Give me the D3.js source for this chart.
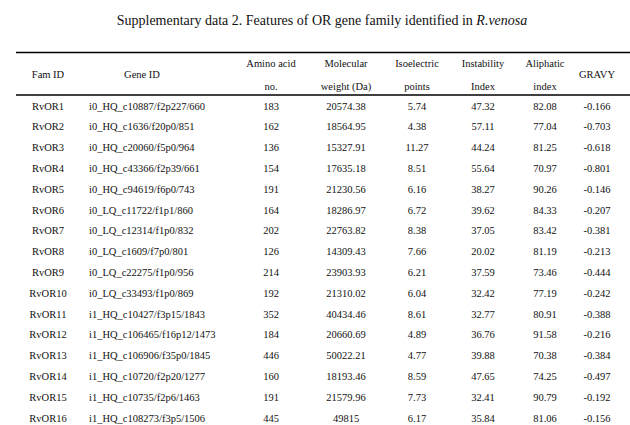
<!DOCTYPE html>
<html lang="en">
<head>
  <meta charset="UTF-8" />
  <title>Features of OR gene family</title>
  <script src="https://d3js.org/d3.v7.min.js"></script>
  <style>
    body {
      margin: 0;
      background: #fff;
    }
    svg text {
      font-family: "Liberation Serif", "Times New Roman", serif;
      fill: #111;
    }
    .title { font-size: 14px; }
    .cell, .head { font-size: 10.5px; }
    .rule { stroke: #000; stroke-width: 1.5; }
  </style>
</head>
<body>
<svg id="table" width="630" height="425"></svg>
<script>
// column headers (each split into its printed lines)
const columns = ["fam", "gene", "aa", "mw", "pi", "ii", "ai", "gravy"];
const headers = [
  ["Fam ID"], ["Gene ID"], ["Amino acid", "no."], ["Molecular", "weight (Da)"],
  ["Isoelectric", "points"], ["Instability", "Index"], ["Aliphatic", "index"], ["GRAVY"]
];

const famIds = ["RvOR1", "RvOR2", "RvOR3", "RvOR4", "RvOR5", "RvOR6", "RvOR7", "RvOR8",
  "RvOR9", "RvOR10", "RvOR11", "RvOR12", "RvOR13", "RvOR14", "RvOR15", "RvOR16"];
const geneIds = [
  "i0_HQ_c10887/f2p227/660", "i0_HQ_c1636/f20p0/851", "i0_HQ_c20060/f5p0/964",
  "i0_HQ_c43366/f2p39/661", "i0_HQ_c94619/f6p0/743", "i0_LQ_c11722/f1p1/860",
  "i0_LQ_c12314/f1p0/832", "i0_LQ_c1609/f7p0/801", "i0_LQ_c22275/f1p0/956",
  "i0_LQ_c33493/f1p0/869", "i1_HQ_c10427/f3p15/1843", "i1_HQ_c106465/f16p12/1473",
  "i1_HQ_c106906/f35p0/1845", "i1_HQ_c10720/f2p20/1277", "i1_HQ_c10735/f2p6/1463",
  "i1_HQ_c108273/f3p5/1506"];
const aminoAcids = [183, 162, 136, 154, 191, 164, 202, 126, 214, 192, 352, 184, 446, 160, 191, 445];
const molWeights = [20574.38, 18564.95, 15327.91, 17635.18, 21230.56, 18286.97, 22763.82, 14309.43,
  23903.93, 21310.02, 40434.46, 20660.69, 50022.21, 18193.46, 21579.96, 49815];
const isoelectric = [5.74, 4.38, 11.27, 8.51, 6.16, 6.72, 8.38, 7.66, 6.21, 6.04, 8.61, 4.89, 4.77, 8.59, 7.73, 6.17];
const instability = [47.32, 57.11, 44.24, 55.64, 38.27, 39.62, 37.05, 20.02, 37.59, 32.42, 32.77, 36.76, 39.88, 47.65, 32.41, 35.84];
const aliphatic = [82.08, 77.04, 81.25, 70.97, 90.26, 84.33, 83.42, 81.19, 73.46, 77.19, 80.91, 91.58, 70.38, 74.25, 90.79, 81.06];
const gravy = [-0.166, -0.703, -0.618, -0.801, -0.146, -0.207, -0.381, -0.213, -0.444, -0.242, -0.388, -0.216, -0.384, -0.497, -0.192, -0.156];

const series = [famIds, geneIds, aminoAcids, molWeights, isoelectric, instability, aliphatic, gravy];

const svg = d3.select("#table");
const width = +svg.attr("width");

// x centre of each column, y of each data row
const x = d3.scaleOrdinal().domain(columns).range([48, 142, 271, 346, 417, 483, 545, 597]);
const geneLeft = 89;
const y = d3.scalePoint().domain(famIds).range([106, 418]);
const headY = d3.scalePoint().domain([0, 1]).range([63.5, 86]);

svg.append("text")
  .attr("class", "title")
  .attr("x", 322)
  .attr("y", 20)
  .attr("dy", "0.35em")
  .attr("text-anchor", "middle")
  .html('Supplementary data 2. Features of OR gene family identified in <tspan font-style="italic">R.venosa</tspan>');

svg.append("line").attr("class", "rule")
  .attr("x1", 16).attr("x2", width).attr("y1", 52.5).attr("y2", 52.5);
svg.append("line").attr("class", "rule")
  .attr("x1", 16).attr("x2", width).attr("y1", 95).attr("y2", 95);

// header
const head = svg.append("g");
columns.forEach((c, i) => {
  const lines = headers[i];
  lines.forEach((t, j) => {
    head.append("text")
      .attr("class", "head")
      .attr("x", x(c))
      .attr("y", lines.length === 1 ? (headY(0) + headY(1)) / 2 : headY(j))
      .attr("dy", "0.35em")
      .attr("text-anchor", "middle")
      .text(t);
  });
});

// body
const body = svg.append("g");
columns.forEach((c, i) => {
  body.selectAll(null)
    .data(series[i])
    .enter()
    .append("text")
    .attr("class", "cell")
    .attr("x", c === "gene" ? geneLeft : x(c))
    .attr("y", (d, r) => y(famIds[r]))
    .attr("dy", "0.35em")
    .attr("text-anchor", c === "gene" ? "start" : "middle")
    .text(d => String(d));
});
</script>
</body>
</html>
